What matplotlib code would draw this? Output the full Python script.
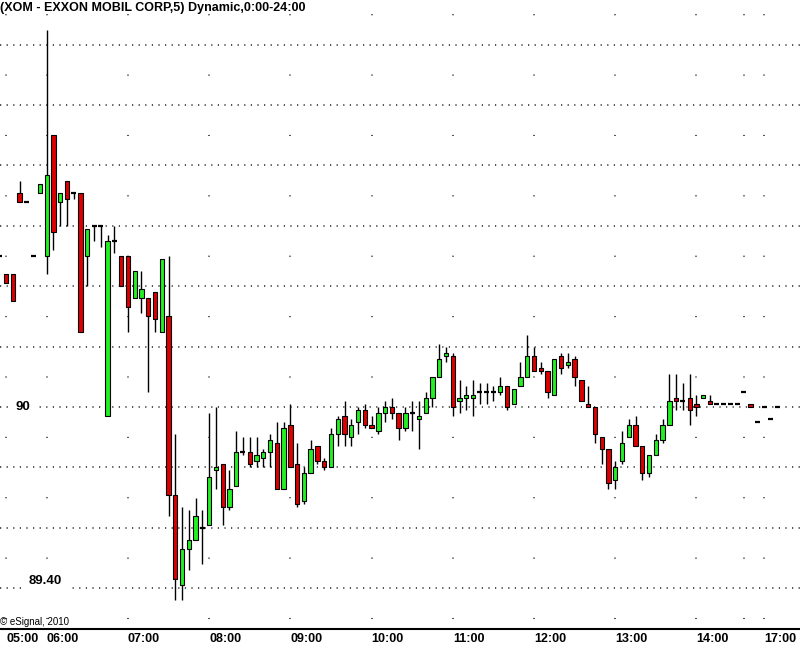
import matplotlib
matplotlib.use('Agg')
import matplotlib.pyplot as plt
import numpy as np

plt.rcParams['font.family'] = ['Liberation Sans', 'DejaVu Sans']

# 5-minute candles, index 0 = the 05:00 bar
bar_idx = list(range(-1, 115))
opens = [90.50, 90.44, 90.44, 90.71, 90.68, 90.50, 90.71, 90.50, 90.90, 90.68,
         90.75, 90.71, 90.71, 90.50, 90.60, 90.60, 89.97, 90.55, 90.50, 90.50,
         90.36, 90.36, 90.36, 90.38, 90.25, 90.30, 89.71, 89.41, 89.53, 89.56,
         89.60, 89.61, 89.79, 89.81, 89.67, 89.74, 89.85, 89.85, 89.82, 89.83,
         89.85, 89.88, 89.73, 89.94, 89.81, 89.69, 89.78, 89.87, 89.82, 89.80,
         89.91, 89.97, 89.90, 89.95, 89.99, 89.94, 89.92, 89.98, 90.00, 89.98,
         89.93, 89.98, 89.96, 89.98, 90.03, 90.10, 90.17, 90.17, 90.02, 90.03,
         90.03, 90.05, 90.05, 90.05, 90.05, 90.07, 90.01, 90.07, 90.10, 90.17,
         90.13, 90.12, 90.04, 90.17, 90.14, 90.16, 90.09, 90.01, 90.00, 89.90,
         89.86, 89.76, 89.82, 89.90, 89.94, 89.87, 89.78, 89.84, 89.89, 89.94,
         90.03, 90.02, 90.03, 90.01, 90.03, 90.02, 90.01, 90.01, 90.01, 90.01,
         90.05, 90.01, 89.95, 90.00, 89.96, 90.00]
highs = [90.50, 90.44, 90.44, 90.75, 90.68, 90.50, 90.74, 91.25, 90.90, 90.71,
         90.75, 90.71, 90.71, 90.59, 90.60, 90.60, 90.57, 90.60, 90.50, 90.50,
         90.45, 90.45, 90.36, 90.38, 90.49, 90.50, 89.91, 89.67, 89.66, 89.70,
         89.66, 89.98, 90.00, 89.81, 89.79, 89.92, 89.90, 89.90, 89.90, 89.86,
         89.91, 89.95, 89.95, 90.01, 89.88, 89.80, 89.89, 89.87, 89.83, 89.93,
         89.97, 90.02, 89.96, 90.00, 90.01, 89.97, 90.00, 90.02, 90.03, 89.98,
         90.00, 90.02, 90.02, 90.05, 90.10, 90.21, 90.20, 90.18, 90.09, 90.07,
         90.09, 90.08, 90.08, 90.07, 90.10, 90.07, 90.06, 90.15, 90.24, 90.20,
         90.15, 90.12, 90.16, 90.18, 90.18, 90.17, 90.09, 90.07, 90.00, 89.90,
         89.86, 89.82, 89.92, 89.96, 89.97, 89.87, 89.84, 89.91, 89.96, 90.11,
         90.11, 90.08, 90.11, 90.04, 90.04, 90.04, 90.01, 90.01, 90.01, 90.01,
         90.05, 90.01, 89.95, 90.00, 89.96, 90.00]
lows = [90.50, 90.41, 90.35, 90.68, 90.68, 90.50, 90.71, 90.44, 90.52, 90.60,
        90.60, 90.69, 90.25, 90.40, 90.55, 90.53, 89.97, 90.51, 90.40, 90.25,
        90.36, 90.31, 90.05, 90.25, 90.25, 89.64, 89.36, 89.36, 89.46, 89.56,
        89.48, 89.61, 89.73, 89.61, 89.66, 89.74, 89.84, 89.80, 89.80, 89.80,
        89.80, 89.73, 89.73, 89.80, 89.67, 89.68, 89.78, 89.81, 89.79, 89.80,
        89.87, 89.87, 89.87, 89.91, 89.93, 89.93, 89.91, 89.95, 89.96, 89.89,
        89.92, 89.92, 89.86, 89.98, 90.00, 90.10, 90.15, 89.97, 89.98, 89.99,
        89.97, 90.01, 90.01, 90.02, 90.04, 89.99, 90.01, 90.07, 90.10, 90.12,
        90.11, 90.03, 90.04, 90.11, 90.13, 90.07, 90.02, 90.00, 89.88, 89.81,
        89.73, 89.73, 89.81, 89.90, 89.87, 89.76, 89.77, 89.84, 89.88, 89.94,
        89.99, 89.99, 89.94, 89.97, 90.03, 90.01, 90.01, 90.01, 90.01, 90.01,
        90.05, 90.00, 89.95, 90.00, 89.96, 90.00]
closes = [90.50, 90.41, 90.35, 90.68, 90.68, 90.50, 90.74, 90.77, 90.58, 90.71,
          90.69, 90.71, 90.25, 90.59, 90.60, 90.60, 90.55, 90.55, 90.40, 90.33,
          90.45, 90.39, 90.30, 90.29, 90.49, 89.71, 89.43, 89.53, 89.56, 89.64,
          89.60, 89.77, 89.80, 89.67, 89.73, 89.85, 89.85, 89.81, 89.84, 89.85,
          89.89, 89.73, 89.93, 89.80, 89.68, 89.78, 89.86, 89.82, 89.80, 89.91,
          89.96, 89.91, 89.94, 89.99, 89.94, 89.93, 89.98, 90.00, 89.98, 89.93,
          89.98, 89.98, 89.97, 90.03, 90.10, 90.16, 90.18, 90.00, 90.03, 90.04,
          90.04, 90.05, 90.05, 90.05, 90.07, 90.00, 90.06, 90.10, 90.17, 90.12,
          90.12, 90.05, 90.16, 90.13, 90.15, 90.10, 90.02, 90.00, 89.91, 89.86,
          89.75, 89.80, 89.88, 89.94, 89.87, 89.78, 89.84, 89.89, 89.94, 90.02,
          90.02, 90.02, 89.99, 90.00, 90.04, 90.01, 90.01, 90.01, 90.01, 90.01,
          90.05, 90.00, 89.95, 90.00, 89.96, 90.00]

tick_idx = [0, 6, 18, 30, 42, 54, 66, 78, 90, 102, 112]
tick_labels = ['05:00', '06:00', '07:00', '08:00', '09:00', '10:00',
               '11:00', '12:00', '13:00', '14:00', '17:00']
extra_grid_idx = [109]
price_grid = [89.4, 89.6, 89.8, 90.0, 90.2, 90.4, 90.6, 90.8, 91.0, 91.2]
price_labels = ['90', '89.40']
price_label_vals = [90.0, 89.40]

x = np.array(bar_idx)
o = np.array(opens)
h = np.array(highs)
l = np.array(lows)
c = np.array(closes)

fig = plt.figure(figsize=(8, 6.47), dpi=100)
ax = fig.add_axes([0, 18 / 647, 1, 629 / 647])
ax.set_xlim(-0.9, 117.3)
ax.set_ylim(89.265, 91.348)

# grid: dotted horizontals, sparse dots on the verticals
for p in price_grid:
    ax.axhline(p, color='#222222', lw=1.1, linestyle=(0, (0.8, 3.52)), zorder=0)
for t in tick_idx + extra_grid_idx:
    ax.axvline(t, color='#222222', lw=1.1, linestyle=(33.0, (0.72, 38.8)), zorder=0)

# candles
ax.vlines(x, l, h, color='black', lw=1, zorder=2)
up = c > o
down = c < o
flat = c == o
w = 0.64
ax.bar(x[up], c[up] - o[up], bottom=o[up], width=w, color='#22f022',
       edgecolor='black', linewidth=0.8, zorder=3)
ax.bar(x[down], o[down] - c[down], bottom=c[down], width=w, color='#dd0000',
       edgecolor='black', linewidth=0.8, zorder=3)
ax.hlines(o[flat], x[flat] - w / 2 - 0.05, x[flat] + w / 2 + 0.05,
          color='black', lw=1.6, zorder=3)

# price labels sitting on the grid
label_x = [23 / 800, 45 / 800]
label_dy = [0, 5]
for txt, val, lx, dy in zip(price_labels, price_label_vals, label_x, label_dy):
    ax.annotate(txt, xy=(lx, val), xycoords=('axes fraction', 'data'),
                xytext=(0, dy), textcoords='offset points',
                ha='center', va='center', fontsize=9.5, fontweight='bold',
                bbox=dict(boxstyle='square,pad=0.55', fc='white', ec='none'),
                zorder=4)

ax.set_xticks(tick_idx)
ax.set_xticklabels(tick_labels, ha='left', fontsize=9, fontweight='bold')
ax.tick_params(axis='x', length=0, pad=3)
ax.set_yticks([])
for s in ['top', 'left', 'right']:
    ax.spines[s].set_visible(False)
ax.spines['bottom'].set_linewidth(1.5)

fig.text(0, 1 - 8 / 647, '(XOM - EXXON MOBIL CORP,5) Dynamic,0:00-24:00',
         ha='left', va='center', fontsize=9, fontweight='bold')
fig.text(0, 25 / 647, '\u00a9 eSignal, 2010', ha='left', va='center', fontsize=7)

fig.savefig('out.png', dpi=100)
